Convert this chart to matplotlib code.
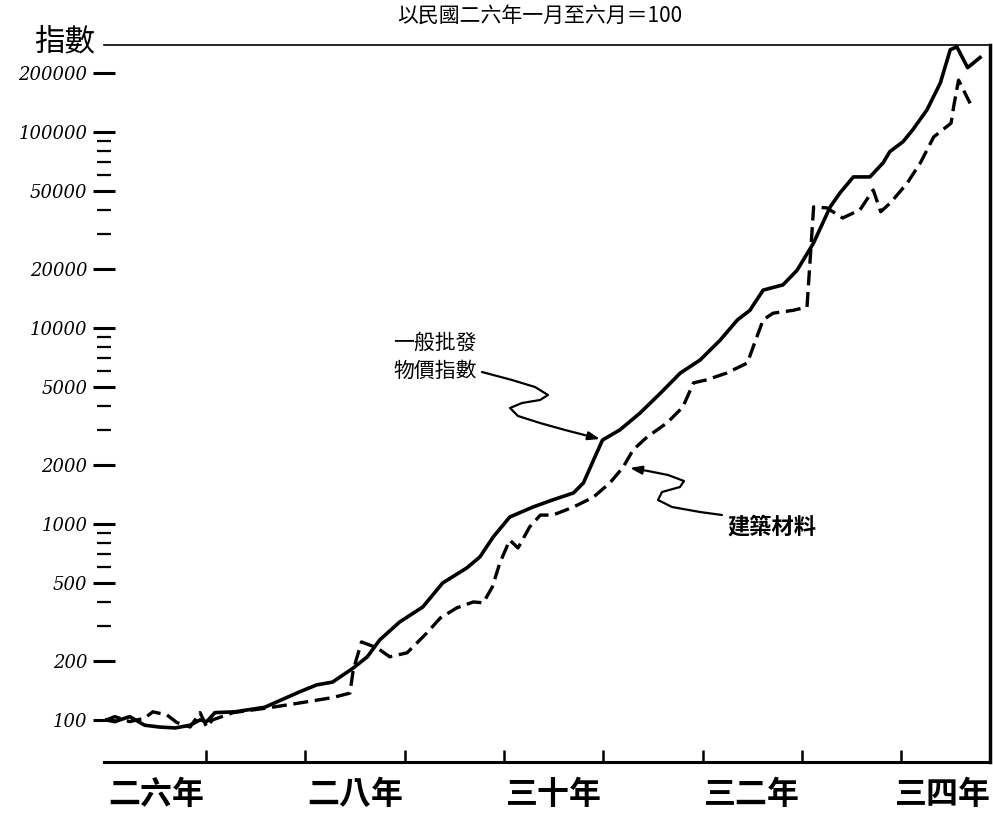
import matplotlib
matplotlib.use("Agg")
import matplotlib.pyplot as plt
from matplotlib.patches import FancyArrowPatch
from matplotlib.path import Path
from matplotlib.transforms import Affine2D
from matplotlib.ticker import FixedLocator, NullFormatter

# ---- data (months since 民國26年1月) ----
gen_months = [0, 1.0, 2.8, 4.6, 6.4, 8.3, 10.1, 11.3, 12.1, 13.1, 15.5, 19.1, 23.3, 25.4, 27.3, 29.8,
              31.5, 33.0, 35.4, 38.2, 40.6, 43.5, 45.1, 46.7, 48.7, 51.5, 53.9, 56.4, 57.6, 58.8,
              59.9, 62.0, 64.4, 66.9, 69.3, 71.7, 74.1, 76.2, 77.7, 79.3, 81.7, 83.4, 85.4, 87.4,
              88.6, 90.2, 92.2, 93.8, 94.6, 96.2, 97.4, 99.1, 100.7, 101.9, 102.7, 104.0, 105.5]
gen_index = [100, 98, 104, 94, 92, 91, 94, 100, 98, 109, 110, 116, 139, 151, 156, 184,
             210, 256, 316, 377, 500, 596, 679, 858, 1085, 1220, 1327, 1440, 1620, 2110,
             2680, 3020, 3670, 4650, 5890, 6870, 8660, 11000, 12300, 15600, 16600, 19700, 27200, 41500,
             49000, 59000, 59000, 69700, 79400, 89300, 103000, 130000, 178000, 263000, 272000, 213000, 240000]

mat_months = [0, 1.0, 2.8, 4.6, 5.6, 7.3, 8.5, 10.1, 11.3, 12.1, 12.8, 15.3, 19.4, 23.3, 27.3, 29.4,
              29.8, 30.8, 32.7, 34.2, 36.3, 38.7, 40.3, 42.3, 44.3, 45.5, 46.6, 47.5, 48.7, 49.7,
              51.1, 52.4, 53.9, 56.4, 58.8, 60.8, 62.4, 63.6, 65.3, 67.7, 69.6, 70.9, 72.5, 74.9,
              77.4, 78.1, 79.3, 80.5, 82.9, 84.6, 85.4, 87.0, 88.9, 91.0, 92.6, 93.5, 94.7, 96.7,
              98.3, 99.9, 102.0, 102.3, 102.9, 104.3]
mat_index = [100, 104, 98, 102, 110, 106, 97, 92, 109, 92, 100, 109, 115, 122, 130, 137,
             180, 250, 233, 210, 220, 278, 331, 373, 400, 396, 477, 632, 828, 754,
             965, 1110, 1110, 1220, 1370, 1620, 1950, 2390, 2780, 3280, 3950, 5250, 5440, 5890,
             6630, 8010, 11000, 11900, 12300, 12800, 41500, 41000, 36400, 40100, 50600, 39200, 43600, 54900,
             69700, 94400, 111000, 134000, 184000, 140000]

y_ticks = [100, 200, 500, 1000, 2000, 5000, 10000, 20000, 50000, 100000, 200000]
y_labels = ["100", "200", "500", "1000", "2000", "5000", "10000", "20000", "50000", "100000", "200000"]
year_ticks = [12, 24, 36, 48, 60, 72, 84, 96]
x_label_pos = [6, 30, 54, 78, 101]
x_labels = ["二六年", "二八年", "三十年", "三二年", "三四年"]

label_general = "一般批發\n物價指數"
label_material = "建築材料"
title_text = "以民國二六年一月至六月＝100"

CJK = ["Noto Sans CJK TC", "DejaVu Sans"]
plt.rcParams["font.family"] = CJK

W, H = 993, 818
fig = plt.figure(figsize=(W / 100, H / 100), dpi=100)
ax = fig.add_axes([104 / W, 1 - 762 / H, (990 - 104) / W, (762 - 45) / H])

ax.plot(gen_months, gen_index, color="black", lw=2.6, solid_joinstyle="round")
ax.plot(mat_months, mat_index, color="black", lw=2.4, dashes=(4.5, 2))

ax.set_yscale("log")
ax.set_ylim(61, 278000)
ax.set_xlim(-0.3, 106.7)

ax.yaxis.set_major_locator(FixedLocator(y_ticks))
ax.set_yticklabels(y_labels, fontsize=13, style="italic", family=["DejaVu Serif"])
minors = []
for dec in [100, 1000, 10000, 100000]:
    for k in range(2, 10):
        v = dec * k
        if v not in y_ticks and v < 278000:
            minors.append(v)
ax.yaxis.set_minor_locator(FixedLocator(minors))
ax.yaxis.set_minor_formatter(NullFormatter())
ax.tick_params(axis="y", which="major", direction="inout", length=16, width=2.2, pad=4)
ax.tick_params(axis="y", which="minor", direction="inout", length=10, width=1.6)

ax.xaxis.set_major_locator(FixedLocator(year_ticks))
ax.xaxis.set_minor_locator(FixedLocator(x_label_pos))
ax.set_xticklabels([""] * len(year_ticks))
ax.set_xticklabels(x_labels, minor=True, fontsize=23, fontweight="bold")
ax.tick_params(axis="x", which="major", direction="in", length=9, width=1.8)
ax.tick_params(axis="x", which="minor", length=0, pad=12)

ax.spines["left"].set_visible(False)
ax.spines["bottom"].set_linewidth(2.2)
ax.spines["right"].set_linewidth(2.5)
ax.spines["top"].set_linewidth(1.2)

# pixel transform (origin top-left of image)
pix = Affine2D().scale(1 / W, -1 / H).translate(0, 1) + fig.transFigure

fig.text(95 / W, 1 - 42 / H, "指數", fontsize=22, ha="right", va="center")
fig.text(540 / W, 1 - 16 / H, title_text, fontsize=15, ha="center", va="center")

ax.text(435, 357, label_general, transform=pix, fontsize=15, ha="center", va="center",
        linespacing=1.4)
ax.text(772, 527, label_material, transform=pix, fontsize=16, ha="center", va="center",
        fontweight="bold")

arrow1 = [(482, 372), (512, 380), (535, 387), (548, 395), (540, 400), (522, 403),
          (510, 408), (518, 416), (540, 423), (565, 430), (600, 439)]
arrow2 = [(722, 515), (700, 512), (672, 507), (658, 500), (662, 492), (680, 487),
          (684, 481), (668, 475), (648, 471), (630, 468)]
for pts in (arrow1, arrow2):
    p = Path(pts, [Path.MOVETO] + [Path.LINETO] * (len(pts) - 1))
    fa = FancyArrowPatch(path=p, arrowstyle="-|>,head_length=7,head_width=2.5",
                         transform=pix, lw=1.6, color="black")
    fig.add_artist(fa)

fig.savefig("out.png", dpi=100, facecolor="white")
